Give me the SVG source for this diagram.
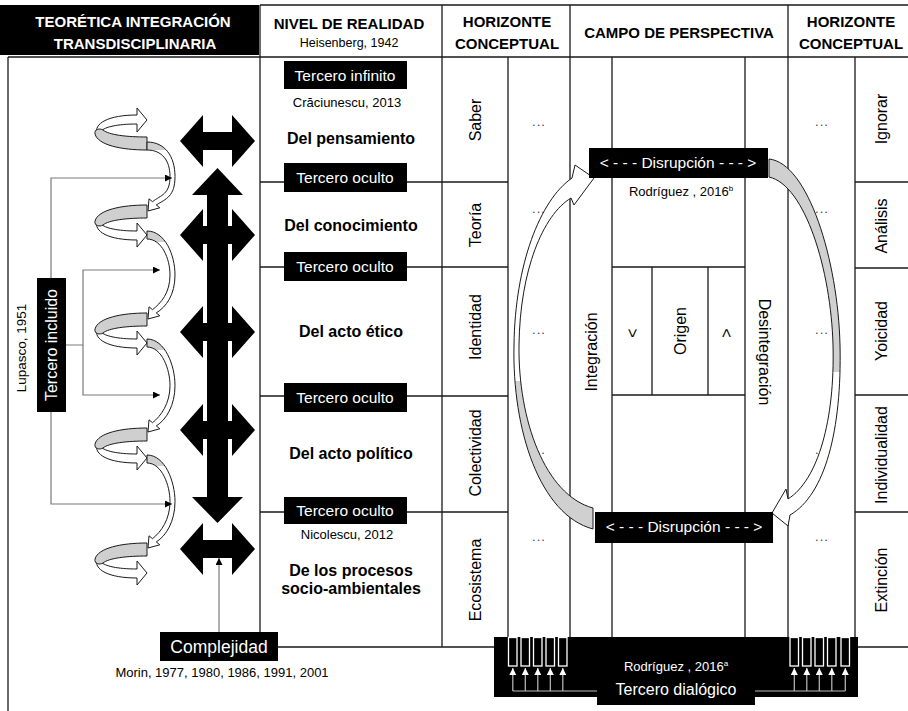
<svg xmlns="http://www.w3.org/2000/svg" xmlns:xlink="http://www.w3.org/1999/xlink" width="908" height="711" viewBox="0 0 908 711">
<style>
.ln{stroke:#1a1a1a;stroke-width:1.3;fill:none}
.t{font-family:"Liberation Sans",Arial,sans-serif;text-anchor:middle;fill:#000}
.b{font-weight:bold}
.w{fill:#fff}
.hd{font-size:15px;font-weight:bold}
.lbl{font-size:16px}
.dots{font-size:13px;fill:#444;letter-spacing:1px}
.box{fill:#000}
.con{stroke:#7a7a7a;stroke-width:1.2;fill:none}
.dlg{stroke:#bdbdbd;stroke-width:1.2;fill:none}
.arr{stroke:#1a1a1a;stroke-width:1;stroke-linejoin:round}
.big{fill:#000}
</style>
<defs>
<marker id="ah" viewBox="0 0 10 10" refX="10" refY="5" markerWidth="8" markerHeight="7" markerUnits="userSpaceOnUse" orient="auto"><path d="M0,0 L10,5 L0,10 Z" fill="#000"/></marker>
<marker id="ahw" viewBox="0 0 10 10" refX="10" refY="5" markerWidth="7" markerHeight="7" markerUnits="userSpaceOnUse" orient="auto"><path d="M0,0 L10,5 L0,10 Z" fill="#fff"/></marker>
<linearGradient id="sg" x1="0" y1="0" x2="0" y2="1"><stop offset="0" stop-color="#cfcfcf"/><stop offset="0.12" stop-color="#cfcfcf"/><stop offset="0.12" stop-color="#fff"/><stop offset="1" stop-color="#fff"/></linearGradient>
<linearGradient id="gl" gradientUnits="userSpaceOnUse" x1="0" y1="170" x2="0" y2="540"><stop offset="0" stop-color="#fff"/><stop offset="0.57" stop-color="#fff"/><stop offset="0.57" stop-color="#d0d0d0"/><stop offset="1" stop-color="#d0d0d0"/></linearGradient>
<linearGradient id="gr" gradientUnits="userSpaceOnUse" x1="0" y1="150" x2="0" y2="520"><stop offset="0" stop-color="#d0d0d0"/><stop offset="0.6" stop-color="#d0d0d0"/><stop offset="0.6" stop-color="#fff"/><stop offset="1" stop-color="#fff"/></linearGradient>
<g id="loop">
<path class="arr" fill="#fff" d="M-50,15 C-54,27 -38,35 -10,35 L-10,42 L0,30 L-10,18 L-10,26 C-30,26 -42,23 -46,19 Z"/>
<path class="arr" fill="#cfcfcf" d="M0,0 C-26,0 -49,5 -52,16 C-53,21 -47,22 -44,20 C-38,15 -20,13 0,13 Z"/>
</g>
</defs>

<g id="grid">
<path class="ln" d="M260,5 H908 M8,57 H908 M260,5 V632 M442,5 V647 M570,5 V637 M788,5 V637 M8,57 V711 M508,57 V637 M612,57 V637 M745,57 V637 M855,57 V637 M260,182 H508 M260,267 H508 M260,396 H508 M260,512 H508 M855,182 H908 M855,268 H908 M855,395 H908 M855,512 H908 M612,267 H745 M612,395 H745 M652,267 V395 M708,267 V395 M278,647 H494 M858,647 H908"/>
</g>

<g id="header-teoretica">
<rect x="0" y="5" width="259" height="50" class="box"/>
<text x="133" y="27" class="t hd w">TEORÉTICA INTEGRACIÓN</text>
<text x="135" y="49" class="t hd w">TRANSDISCIPLINARIA</text>
</g>
<g id="header-nivel">
<text x="349" y="29" class="t hd">NIVEL DE REALIDAD</text>
<text x="349" y="47" class="t" font-size="12.5">Heisenberg, 1942</text>
</g>
<g id="header-horizonte-1">
<text x="507" y="27" class="t hd">HORIZONTE</text>
<text x="507" y="49" class="t hd">CONCEPTUAL</text>
</g>
<g id="header-campo">
<text x="679" y="38" class="t hd">CAMPO DE PERSPECTIVA</text>
</g>
<g id="header-horizonte-2">
<text x="851" y="27" class="t hd">HORIZONTE</text>
<text x="851" y="49" class="t hd">CONCEPTUAL</text>
</g>

<g id="lupasco">
<text x="26" y="348" class="t" font-size="13.5" transform="rotate(-90 26 348)">Lupasco, 1951</text>
</g>
<g id="tercero-incluido">
<rect x="37" y="278" width="29" height="134" class="box"/>
<text x="57" y="345" class="t lbl w" transform="rotate(-90 57 345)">Tercero incluido</text>
</g>

<g id="spirals">
<use xlink:href="#loop" href="#loop" transform="translate(147,150) scale(1,-1)"/>
<use xlink:href="#loop" href="#loop" transform="translate(147,205)"/>
<use xlink:href="#loop" href="#loop" transform="translate(147,313)"/>
<use xlink:href="#loop" href="#loop" transform="translate(147,428)"/>
<use xlink:href="#loop" href="#loop" transform="translate(147,543)"/>
<path class="arr" fill="url(#sg)" d="M147,142 C165,142 175,156.5 175,176.5 C175,196.5 166,199 156.3,204.9 L159.8,207.8 L148,211 L149,198.8 L152.5,201.7 C161,195 170,194.5 170,176.5 C170,160.5 162,150 147,150 Z"/>
<path class="arr" fill="url(#sg)" d="M147,231 C165,231 175,255 175,275 C175,295 166,307 156.3,312.9 L159.8,315.8 L148,319 L149,306.8 L152.5,309.7 C161,303 170,293 170,275 C170,259 162,239 147,239 Z"/>
<path class="arr" fill="url(#sg)" d="M147,339 C165,339 175,365.5 175,385.5 C175,405.5 166,420 156.3,425.9 L159.8,428.8 L148,432 L149,419.8 L152.5,422.7 C161,416 170,403.5 170,385.5 C170,369.5 162,347 147,347 Z"/>
<path class="arr" fill="url(#sg)" d="M147,455 C165,455 175,481.5 175,501.5 C175,521.5 166,536 156.3,541.9 L159.8,544.8 L148,548 L149,535.8 L152.5,538.7 C161,532 170,519.5 170,501.5 C170,485.5 162,463 147,463 Z"/>
</g>

<g id="black-arrows">
<path class="big" d="M217.5,168 L243,195 L228,195 L228,497 L243,497 L217.5,523 L192,497 L207,497 L207,195 L192,195 Z"/>
<path class="big" d="M180,141 L203,115 L203,132 L232,132 L232,115 L255,141 L232,167 L232,150 L203,150 L203,167 Z"/>
<path class="big" d="M180,235 L203,209 L203,226 L232,226 L232,209 L255,235 L232,261 L232,244 L203,244 L203,261 Z"/>
<path class="big" d="M180,332 L203,306 L203,323 L232,323 L232,306 L255,332 L232,358 L232,341 L203,341 L203,358 Z"/>
<path class="big" d="M180,430 L203,404 L203,421 L232,421 L232,404 L255,430 L232,456 L232,439 L203,439 L203,456 Z"/>
<path class="big" d="M180,549 L203,523 L203,540 L232,540 L232,523 L255,549 L232,575 L232,558 L203,558 L203,575 Z"/>
</g>

<g id="complejidad">
<rect x="160" y="632" width="118" height="29" class="box"/>
<text x="219" y="653" class="t w" font-size="17.5">Complejidad</text>
<text x="222" y="677" class="t" font-size="13">Morin, 1977, 1980, 1986, 1991, 2001</text>
</g>

<g id="tercero-infinito">
<rect x="284" y="61" width="123" height="28" class="box"/>
<text x="345" y="81" class="t w" font-size="15.5">Tercero infinito</text>
<text x="347" y="107" class="t" font-size="13">Crăciunescu, 2013</text>
</g>
<g id="nivel-pensamiento"><text x="351" y="144" class="t b" font-size="16">Del pensamiento</text></g>
<g id="tercero-oculto-1"><rect x="284" y="163" width="123" height="29" class="box"/><text x="345" y="183" class="t w" font-size="15.5">Tercero oculto</text></g>
<g id="nivel-conocimiento"><text x="351" y="231" class="t b" font-size="16">Del conocimiento</text></g>
<g id="tercero-oculto-2"><rect x="284" y="252" width="123" height="29" class="box"/><text x="345" y="272" class="t w" font-size="15.5">Tercero oculto</text></g>
<g id="nivel-etico"><text x="351" y="337" class="t b" font-size="16">Del acto ético</text></g>
<g id="tercero-oculto-3"><rect x="284" y="383" width="123" height="29" class="box"/><text x="345" y="403" class="t w" font-size="15.5">Tercero oculto</text></g>
<g id="nivel-politico"><text x="351" y="459" class="t b" font-size="16">Del acto político</text></g>
<g id="tercero-oculto-4"><rect x="284" y="497" width="123" height="27" class="box"/><text x="345" y="516" class="t w" font-size="15.5">Tercero oculto</text><text x="347" y="539" class="t" font-size="13">Nicolescu, 2012</text></g>
<g id="nivel-socioambiental"><text x="351" y="576" class="t b" font-size="16">De los procesos</text><text x="351" y="594" class="t b" font-size="16">socio-ambientales</text></g>

<g id="horizonte-izq">
<text x="481" y="120" class="t lbl" transform="rotate(-90 481 120)">Saber</text>
<text x="481" y="225" class="t lbl" transform="rotate(-90 481 225)">Teoría</text>
<text x="481" y="327" class="t lbl" transform="rotate(-90 481 327)">Identidad</text>
<text x="481" y="453" class="t lbl" transform="rotate(-90 481 453)">Colectividad</text>
<text x="481" y="580" class="t lbl" transform="rotate(-90 481 580)">Ecosistema</text>
<text x="539" y="126" class="t dots">...</text>
<text x="539" y="213" class="t dots">...</text>
<text x="539" y="334" class="t dots">...</text>
<text x="539" y="454" class="t dots">...</text>
<text x="539" y="541" class="t dots">...</text>
</g>

<g id="horizonte-der">
<text x="887" y="119" class="t lbl" transform="rotate(-90 887 119)">Ignorar</text>
<text x="887" y="226" class="t lbl" transform="rotate(-90 887 226)">Análisis</text>
<text x="887" y="331" class="t lbl" transform="rotate(-90 887 331)">Yoicidad</text>
<text x="887" y="455" class="t lbl" transform="rotate(-90 887 455)">Individualidad</text>
<text x="887" y="580" class="t lbl" transform="rotate(-90 887 580)">Extinción</text>
<text x="822" y="126" class="t dots">...</text>
<text x="822" y="213" class="t dots">...</text>
<text x="822" y="334" class="t dots">...</text>
<text x="822" y="454" class="t dots">...</text>
<text x="822" y="541" class="t dots">...</text>
</g>

<g id="campo">
<text x="597" y="352" class="t lbl" transform="rotate(-90 597 352)">Integración</text>
<text x="759" y="352" class="t lbl" transform="rotate(90 759 352)">Desintegración</text>
<text x="638" y="333" class="t lbl" transform="rotate(-90 638 333)">&lt;</text>
<text x="686" y="331" class="t lbl" transform="rotate(-90 686 331)">Origen</text>
<text x="732" y="333" class="t lbl" transform="rotate(-90 732 333)">&gt;</text>
</g>

<g id="ciclo-arrows">
<path class="arr" fill="url(#gl)" d="M593,529 C540,515 512,430 514,345 C515,265 540,200 572,178 L575,165 L594,178 L574,205 L571,198 C543,215 520,270 519,345 C518,420 545,495 593,508 Z"/>
<path class="arr" fill="url(#gr)" d="M769,159 C808,163 838,260 840,345 C842,430 825,495 790,515 L788,526 L772,513 L786,489 L788,499 C818,480 835,420 833,345 C831,270 805,185 769,177 Z"/>
</g>

<g id="disrupcion-sup">
<rect x="589" y="148" width="179" height="30" class="box"/>
<text x="678" y="168" class="t w" font-size="15.5">&lt; - - - Disrupción - - - &gt;</text>
<text x="681" y="196" class="t" font-size="13">Rodríguez , 2016<tspan font-size="8" dy="-5">b</tspan></text>
</g>
<g id="disrupcion-inf">
<rect x="595" y="512" width="178" height="31" class="box"/>
<text x="684" y="532" class="t w" font-size="15.5">&lt; - - - Disrupción - - - &gt;</text>
</g>

<g id="tercero-dialogico">
<path class="box" d="M494,637 H858 V697 H755 V705 H597 V697 H494 Z"/>
<g fill="none" stroke="#fff" stroke-width="1.3">
<rect x="508.5" y="637.5" width="8.5" height="28.5"/><rect x="521" y="637.5" width="8.5" height="28.5"/><rect x="533.5" y="637.5" width="8.5" height="28.5"/><rect x="546" y="637.5" width="8.5" height="28.5"/><rect x="558.5" y="637.5" width="8.5" height="28.5"/>
<rect x="790" y="637.5" width="8.5" height="28.5"/><rect x="802.5" y="637.5" width="8.5" height="28.5"/><rect x="815" y="637.5" width="8.5" height="28.5"/><rect x="827.5" y="637.5" width="8.5" height="28.5"/><rect x="841" y="637.5" width="8.5" height="28.5"/>
</g>
<text x="676" y="671" class="t w" font-size="13">Rodríguez , 2016<tspan font-size="8" dy="-5">a</tspan></text>
<text x="676" y="695" class="t w" font-size="16">Tercero dialógico</text>
</g>

<g id="connectors">
<path class="con" d="M51,278 V178 H172" marker-end="url(#ah)"/>
<path class="con" d="M66,345 H83 V270 H160" marker-end="url(#ah)"/>
<path class="con" d="M83,345 V395 H160" marker-end="url(#ah)"/>
<path class="con" d="M51,412 V504 H172" marker-end="url(#ah)"/>
<path class="con" d="M219,632 V558" marker-end="url(#ah)"/>
<path class="dlg" d="M597,691 H512.8 M755,691 H845.3"/>
<path class="dlg" d="M512.8,691 V668" marker-end="url(#ahw)"/>
<path class="dlg" d="M525.3,691 V668" marker-end="url(#ahw)"/>
<path class="dlg" d="M537.8,691 V668" marker-end="url(#ahw)"/>
<path class="dlg" d="M550.3,691 V668" marker-end="url(#ahw)"/>
<path class="dlg" d="M562.8,691 V668" marker-end="url(#ahw)"/>
<path class="dlg" d="M794.3,691 V668" marker-end="url(#ahw)"/>
<path class="dlg" d="M806.8,691 V668" marker-end="url(#ahw)"/>
<path class="dlg" d="M819.3,691 V668" marker-end="url(#ahw)"/>
<path class="dlg" d="M831.8,691 V668" marker-end="url(#ahw)"/>
<path class="dlg" d="M845.3,691 V668" marker-end="url(#ahw)"/>
</g>
</svg>
